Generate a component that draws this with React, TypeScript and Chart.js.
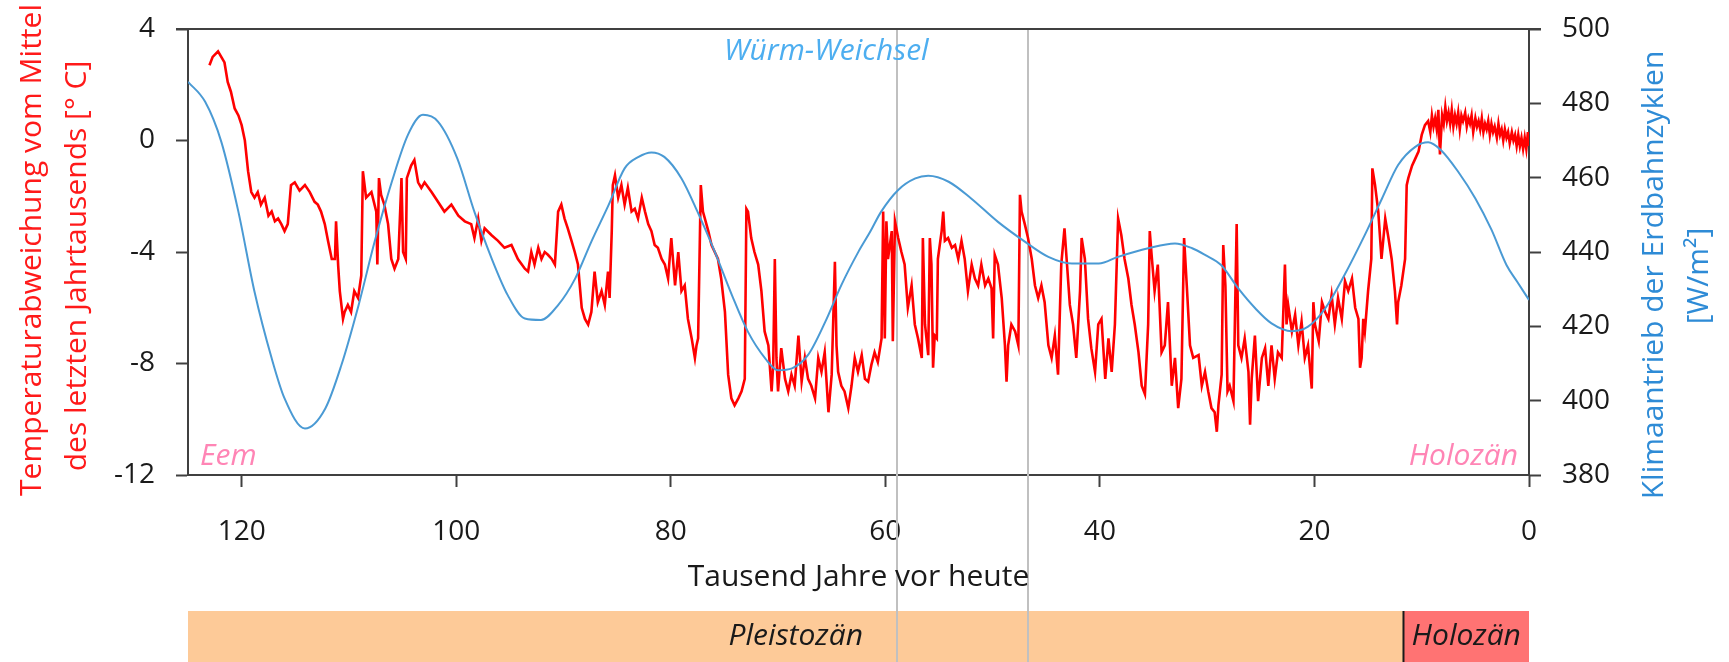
import React, { useEffect, useRef } from "react";
import { Chart, registerables } from "chart.js";

Chart.register(...registerables);

// ---------- data ----------
const X_TICKS = [0, 20, 40, 60, 80, 100, 120];

// Insolation (orbital forcing), W/m², vs thousand years before present
const BLUE_KA = [125.0, 123.4, 121.9, 120.3, 118.8, 117.2, 116.0, 114.1, 112.2, 110.7, 109.1, 107.6, 106.0, 104.5, 103.1, 101.7, 99.9, 98.3, 96.7, 95.2, 93.6, 92.1, 90.5, 88.9, 87.4, 85.8, 84.3, 83.0, 81.8, 80.6, 79.0, 77.5, 75.9, 74.3, 72.8, 71.2, 70.0, 68.7, 67.2, 65.6, 64.1, 62.5, 61.4, 60.4, 58.8, 57.2, 56.0, 54.1, 52.0, 49.5, 47.0, 44.8, 42.6, 40.1, 38.3, 35.5, 33.0, 31.4, 30.2, 28.7, 27.1, 25.5, 24.0, 22.1, 20.6, 19.0, 17.2, 15.3, 13.7, 12.2, 10.6, 9.4, 8.2, 6.6, 5.0, 3.5, 2.1, 1.1, 0];
const BLUE_W = [485.8, 480.4, 469.7, 450.8, 429.3, 411.4, 400.6, 392.5, 397.9, 409.6, 425.7, 442.8, 458.9, 471.5, 476.9, 475.1, 465.2, 450.8, 438.3, 428.4, 422.1, 421.7, 425.7, 432.9, 442.8, 452.6, 462.5, 465.6, 466.8, 465.6, 459.8, 450.8, 440.1, 428.4, 418.5, 411.4, 408.2, 408.7, 412.3, 421.2, 431.1, 440.1, 445.5, 450.8, 456.7, 459.8, 460.5, 458.9, 454.4, 448.1, 442.8, 438.7, 436.9, 436.9, 438.7, 441.0, 442.3, 441.0, 439.2, 436.5, 430.2, 424.8, 420.8, 418.7, 419.9, 424.8, 433.8, 444.6, 454.4, 463.4, 468.3, 469.5, 467.4, 461.6, 454.4, 446.0, 436.5, 432.0, 427.1];

// Temperature anomaly (°C) vs thousand years before present
const RED_KA = [
  123.0, 122.7, 122.2, 121.9, 121.6, 121.3, 121.0, 120.65, 120.3, 120.0, 119.7, 119.4, 119.1, 118.8, 118.5, 118.2, 117.85, 117.5, 117.2, 116.9,
  116.6, 116.3, 116.0, 115.7, 115.4, 115.05, 114.6, 114.1, 113.65, 113.2, 112.9, 112.6, 112.25, 111.95, 111.6, 111.3, 111.2, 111.0, 110.85, 110.55,
  110.4, 110.1, 109.8, 109.5, 109.15, 108.85, 108.7, 108.4, 107.9, 107.45, 107.35, 107.2, 107.0, 106.7, 106.35, 106.05, 105.75, 105.4, 105.1, 104.95,
  104.7, 104.6, 104.2, 103.9, 103.55, 103.25, 102.95, 102.3, 101.7, 101.1, 100.45, 99.8, 99.2, 98.6, 98.3, 97.95, 97.65, 97.35, 96.7, 96.1,
  95.5, 94.85, 94.25, 93.6, 93.3, 93.0, 92.7, 92.35, 92.05, 91.75, 91.45, 91.1, 90.8, 90.5, 90.2, 89.9, 89.6, 89.25, 88.95, 88.65,
  88.3, 88.0, 87.7, 87.4, 87.1, 86.8, 86.45, 86.15, 85.85, 85.7, 85.5, 85.4, 85.2, 84.9, 84.6, 84.3, 84.0, 83.65, 83.35, 83.05,
  82.7, 82.4, 82.1, 81.8, 81.5, 81.2, 80.85, 80.55, 80.25, 79.95, 79.6, 79.3, 79.0, 78.7, 78.4, 78.05, 77.75, 77.6, 77.45, 77.2,
  77.0, 76.5, 76.2, 75.9, 75.6, 75.3, 74.95, 74.65, 74.35, 74.05, 73.7, 73.4, 73.1, 72.95, 72.8, 72.5, 72.2, 71.85, 71.55, 71.25,
  70.9, 70.6, 70.45, 70.3, 70.15, 70.0, 69.7, 69.35, 69.05, 68.75, 68.45, 68.1, 67.8, 67.5, 67.2, 66.9, 66.55, 66.25, 65.95, 65.65,
  65.3, 65.0, 64.7, 64.55, 64.4, 64.1, 63.8, 63.45, 63.15, 62.85, 62.55, 62.2, 61.9, 61.6, 61.3, 61.0, 60.7, 60.35, 60.2, 60.05,
  59.9, 59.75, 59.4, 59.3, 59.1, 58.8, 58.5, 58.2, 57.9, 57.55, 57.25, 56.95, 56.6, 56.5, 56.3, 56.0, 55.85, 55.7, 55.55, 55.4,
  55.2, 55.1, 54.75, 54.6, 54.45, 54.15, 53.8, 53.5, 53.2, 52.9, 52.6, 52.3, 51.95, 51.65, 51.35, 51.05, 50.7, 50.4, 50.1, 49.95,
  49.8, 49.5, 49.15, 48.85, 48.7, 48.55, 48.25, 47.9, 47.6, 47.45, 47.3, 47.0, 46.7, 46.35, 46.05, 45.75, 45.45, 45.15, 44.8, 44.5,
  44.2, 43.9, 43.6, 43.3, 43.1, 42.8, 42.5, 42.2, 41.85, 41.7, 41.4, 41.1, 40.8, 40.45, 40.15, 39.85, 39.5, 39.2, 38.9, 38.6,
  38.3, 38.0, 37.7, 37.35, 37.05, 36.75, 36.4, 36.1, 35.8, 35.5, 35.35, 35.2, 34.9, 34.6, 34.25, 33.95, 33.65, 33.3, 33.0, 32.7,
  32.4, 32.15, 31.9, 31.6, 31.3, 30.8, 30.5, 30.2, 29.9, 29.6, 29.3, 29.1, 28.95, 28.65, 28.5, 28.3, 28.1, 27.9, 27.55, 27.25,
  27.1, 26.8, 26.5, 26.15, 26.0, 25.85, 25.55, 25.25, 24.9, 24.6, 24.3, 24.0, 23.7, 23.4, 23.05, 22.75, 22.6, 22.45, 22.1, 21.8,
  21.5, 21.2, 20.9, 20.6, 20.25, 20.1, 19.95, 19.6, 19.3, 19.0, 18.7, 18.4, 18.1, 17.8, 17.45, 17.15, 16.85, 16.5, 16.2, 15.9,
  15.75, 15.6, 15.45, 15.3, 15.0, 14.7, 14.6, 14.35, 14.05, 13.75, 13.4, 13.1, 12.8, 12.5, 12.3, 12.2, 11.9, 11.55, 11.4, 11.25,
  10.9, 10.6, 10.3, 10.0, 9.7, 9.4, 9.2, 9.05, 8.9, 8.75, 8.6, 8.45, 8.3, 8.1, 7.95, 7.8, 7.65, 7.5, 7.35, 7.2,
  7.05, 6.9, 6.75, 6.6, 6.45, 6.3, 6.15, 5.95, 5.8, 5.65, 5.5, 5.35, 5.2, 5.0, 4.85, 4.7, 4.55, 4.4, 4.25, 4.1,
  3.95, 3.8, 3.65, 3.5, 3.35, 3.2, 3.0, 2.85, 2.7, 2.55, 2.4, 2.25, 2.1, 1.95, 1.8, 1.6, 1.45, 1.3, 1.15, 1.0,
  0.85, 0.7, 0.55, 0.4, 0.25, 0.1, 0.0
];
const RED_T = [
  2.7, 3.0, 3.2, 3.0, 2.8, 2.1, 1.75, 1.15, 0.9, 0.55, 0.0, -1.1, -1.85, -2.05, -1.85, -2.3, -2.05, -2.7, -2.55, -2.9,
  -2.8, -3.0, -3.25, -3.0, -1.6, -1.5, -1.8, -1.6, -1.85, -2.2, -2.3, -2.55, -3.0, -3.6, -4.25, -4.25, -2.9, -4.5, -5.4, -6.4,
  -6.15, -5.9, -6.15, -5.4, -5.65, -4.85, -1.1, -2.05, -1.85, -2.55, -4.45, -1.35, -1.95, -2.3, -3.0, -4.25, -4.6, -4.25, -1.35, -4.0,
  -4.25, -1.35, -0.9, -0.7, -1.5, -1.7, -1.5, -1.85, -2.2, -2.55, -2.3, -2.7, -2.9, -3.0, -3.5, -2.8, -3.6, -3.15, -3.4, -3.6,
  -3.85, -3.75, -4.25, -4.6, -4.7, -4.0, -4.45, -3.85, -4.25, -4.0, -4.1, -4.25, -4.45, -2.55, -2.3, -2.8, -3.15, -3.6, -4.0, -4.45,
  -6.0, -6.4, -6.6, -6.15, -4.7, -5.8, -5.4, -5.9, -4.7, -5.65, -3.25, -1.6, -1.25, -2.05, -1.6, -2.3, -1.7, -2.55, -2.45, -2.8,
  -2.05, -2.55, -3.0, -3.25, -3.75, -3.85, -4.25, -4.45, -4.95, -3.5, -5.2, -4.0, -5.4, -5.2, -6.4, -7.1, -7.8, -7.35, -7.1, -1.6,
  -2.55, -3.25, -3.75, -4.0, -4.25, -4.95, -6.15, -8.4, -9.25, -9.5, -9.25, -9.0, -8.55, -2.45, -2.55, -3.5, -4.0, -4.45, -5.4, -6.85,
  -7.35, -9.0, -8.05, -4.25, -7.8, -9.0, -7.45, -8.55, -9.0, -8.4, -8.8, -7.0, -8.65, -7.8, -8.55, -8.8, -9.25, -7.8, -8.3, -7.6,
  -9.75, -8.4, -4.35, -7.35, -8.3, -8.8, -9.0, -9.6, -8.8, -7.8, -8.3, -7.7, -8.55, -8.65, -8.05, -7.6, -7.95, -7.1, -2.55, -7.1,
  -2.9, -4.25, -3.25, -7.2, -2.9, -3.5, -4.0, -4.45, -6.0, -5.2, -6.6, -7.1, -7.8, -3.5, -6.6, -7.7, -3.5, -4.45, -8.15, -7.0,
  -7.1, -4.25, -3.25, -2.55, -3.6, -3.5, -3.85, -3.75, -4.25, -3.6, -4.25, -5.4, -4.45, -4.95, -5.2, -4.45, -5.2, -4.95, -5.3, -7.1,
  -4.1, -4.45, -5.65, -7.35, -8.65, -7.35, -6.6, -6.85, -7.35, -1.95, -2.55, -3.0, -3.5, -4.25, -5.2, -5.65, -5.2, -5.8, -7.35, -7.8,
  -7.0, -8.4, -4.45, -3.15, -4.25, -5.9, -6.6, -7.8, -5.4, -3.5, -4.25, -6.4, -7.45, -8.3, -6.6, -6.4, -8.55, -7.1, -8.3, -6.6,
  -2.8, -3.4, -4.25, -4.95, -5.9, -6.6, -7.6, -8.8, -9.1, -6.6, -3.25, -4.0, -5.4, -4.45, -7.6, -7.35, -5.8, -8.8, -7.8, -9.6,
  -8.55, -3.5, -5.2, -7.35, -7.8, -7.7, -8.8, -8.3, -9.0, -9.6, -9.75, -10.45, -9.5, -8.4, -3.75, -5.2, -9.0, -8.8, -9.35, -3.0,
  -7.35, -7.8, -7.1, -8.3, -10.2, -8.55, -7.0, -9.35, -7.8, -7.45, -8.8, -7.35, -8.55, -7.6, -7.8, -4.45, -6.6, -5.9, -6.85, -6.25,
  -7.35, -6.5, -7.8, -7.35, -8.9, -5.8, -6.6, -7.2, -5.8, -6.15, -6.4, -5.55, -6.6, -5.65, -6.4, -5.05, -5.4, -4.95, -6.0, -6.4,
  -8.15, -7.8, -6.4, -6.85, -5.4, -4.25, -1.0, -1.6, -2.55, -4.25, -2.8, -3.5, -4.25, -5.4, -6.6, -5.8, -5.2, -4.25, -1.6, -1.35,
  -0.9, -0.65, -0.4, 0.2, 0.55, 0.7, 0.3, 0.9, 0.5, 0.8, 0.4, 1.1, -0.5, 0.9, 0.6, 1.2, 0.7, 1.0, 0.6, 1.1,
  0.5, 0.9, 0.6, 1.0, 0.4, 0.9, 0.7, 1.0, 0.5, 0.8, 0.6, 0.9, 0.3, 0.8, 0.5, 0.7, 0.4, 0.8, 0.3, 0.6,
  0.4, 0.7, 0.2, 0.6, 0.3, 0.5, 0.1, 0.6, 0.2, 0.4, 0.0, 0.4, 0.1, 0.3, -0.1, 0.3, 0.0, 0.2, -0.2, 0.2,
  -0.2, 0.1, -0.3, 0.1, -0.3, 0.3, -0.2
];

// Epochs and markers
const EPOCH_NAMES = ["Pleistozän", "Holozän"];
const EPOCH_START = [125, 11.7];
const EPOCH_END = [11.7, 0];
const EPOCH_COLORS = ["#FDCA98", "#FF7373"];
const MARKER_KA = [58.9, 46.7];

const FONT = "'Open Sans', 'DejaVu Sans', sans-serif";

const overlay = {
  id: "overlay",
  beforeDatasetsDraw(chart: any) {
    const { ctx, chartArea, scales } = chart;
    const x = scales.x;
    const barTop = 611;
    const barBottom = chart.height;
    ctx.save();
    for (let i = 0; i < EPOCH_NAMES.length; i++) {
      const x0 = x.getPixelForValue(EPOCH_START[i]);
      const x1 = x.getPixelForValue(EPOCH_END[i]);
      ctx.fillStyle = EPOCH_COLORS[i];
      ctx.fillRect(x0, barTop, x1 - x0, barBottom - barTop);
      ctx.fillStyle = "#1a1a1a";
      ctx.font = "italic 30px " + FONT;
      ctx.textAlign = "center";
      ctx.textBaseline = "middle";
      ctx.fillText(EPOCH_NAMES[i], (x0 + x1) / 2, (barTop + barBottom) / 2);
    }
    const xb = x.getPixelForValue(EPOCH_START[1]);
    ctx.strokeStyle = "#1a1a1a";
    ctx.lineWidth = 2;
    ctx.beginPath();
    ctx.moveTo(xb, barTop);
    ctx.lineTo(xb, barBottom);
    ctx.stroke();

    ctx.strokeStyle = "#C0C0C0";
    ctx.lineWidth = 2;
    for (const m of MARKER_KA) {
      const px = Math.round(x.getPixelForValue(m));
      ctx.beginPath();
      ctx.moveTo(px, chartArea.top);
      ctx.lineTo(px, barBottom);
      ctx.stroke();
    }
    ctx.restore();
  },
  afterDraw(chart: any) {
    const { ctx, chartArea, scales } = chart;
    ctx.save();
    // top frame line
    ctx.strokeStyle = "#404040";
    ctx.lineWidth = 2;
    ctx.beginPath();
    ctx.moveTo(chartArea.left - 12, chartArea.top);
    ctx.lineTo(chartArea.right + 12, chartArea.top);
    ctx.stroke();

    // annotations
    ctx.font = "italic 30px " + FONT;
    ctx.fillStyle = "#4DAEF0";
    ctx.textAlign = "center";
    ctx.textBaseline = "middle";
    ctx.fillText("Würm-Weichsel", scales.x.getPixelForValue(65.5), chartArea.top + 22);
    ctx.fillStyle = "#FF85B5";
    ctx.textBaseline = "alphabetic";
    ctx.textAlign = "left";
    ctx.fillText("Eem", chartArea.left + 12, chartArea.bottom - 10);
    ctx.textAlign = "right";
    ctx.fillText("Holozän", chartArea.right - 11, chartArea.bottom - 10);

    // x title
    ctx.font = "30px " + FONT;
    ctx.fillStyle = "#1a1a1a";
    ctx.textAlign = "center";
    ctx.textBaseline = "middle";
    ctx.fillText("Tausend Jahre vor heute", (chartArea.left + chartArea.right) / 2, 577);

    // axis titles (rotated)
    const rot = (text: string, cx: number, cy: number, color: string) => {
      ctx.save();
      ctx.translate(cx, cy);
      ctx.rotate(-Math.PI / 2);
      ctx.fillStyle = color;
      ctx.textAlign = "center";
      ctx.textBaseline = "middle";
      ctx.fillText(text, 0, 0);
      ctx.restore();
    };
    rot("Temperaturabweichung vom Mittel", 32, 250, "#FF1A1A");
    rot("des letzten Jahrtausends [° C]", 77, 266, "#FF1A1A");
    rot("Klimaantrieb der Erdbahnzyklen", 1654, 275, "#2E8BD6");
    rot("[W/m²]", 1699, 276, "#2E8BD6");
    ctx.restore();
  },
};

export default function App() {
  const ref = useRef<HTMLCanvasElement | null>(null);
  useEffect(() => {
    if (!ref.current) return;
    const blue = BLUE_KA.map((k, i) => ({ x: k, y: BLUE_W[i] }));
    const red = RED_KA.map((k, i) => ({ x: k, y: RED_T[i] }));
    const tickFont = { family: FONT, size: 28 };
    const noPad = (s: any) => {
      s.paddingTop = 0;
      s.paddingBottom = 0;
    };
    const chart = new Chart(ref.current, {
      type: "line",
      data: {
        datasets: [
          {
            label: "Klimaantrieb",
            data: blue,
            yAxisID: "y1",
            borderColor: "#4A9AD4",
            borderWidth: 2,
            pointRadius: 0,
            cubicInterpolationMode: "monotone",
            fill: false,
          },
          {
            label: "Temperatur",
            data: red,
            yAxisID: "y",
            borderColor: "#FF0000",
            borderWidth: 2.6,
            pointRadius: 0,
            tension: 0,
            fill: false,
          },
        ],
      },
      options: {
        responsive: false,
        animation: false,
        events: [],
        layout: { padding: { top: 29, left: 0, right: 0, bottom: 0 } },
        plugins: { legend: { display: false }, tooltip: { enabled: false } },
        scales: {
          x: {
            type: "linear",
            reverse: true,
            min: 0,
            max: 125,
            afterBuildTicks: (s: any) => {
              s.ticks = X_TICKS.map((v) => ({ value: v }));
            },
            afterFit: (s: any) => {
              s.height = 187;
              s.paddingLeft = 0;
              s.paddingRight = 0;
            },
            ticks: { font: tickFont, color: "#1a1a1a", padding: 28, maxRotation: 0, autoSkip: false },
            grid: { drawOnChartArea: false, drawTicks: true, tickLength: 12, tickColor: "#404040", tickWidth: 2 },
            border: { display: true, color: "#404040", width: 2 },
          },
          y: {
            position: "left",
            min: -12,
            max: 4,
            ticks: { stepSize: 4, font: tickFont, color: "#1a1a1a", padding: 21 },
            afterFit: (s: any) => {
              s.width = 188;
              noPad(s);
            },
            grid: { drawOnChartArea: false, drawTicks: true, tickLength: 12, tickColor: "#404040", tickWidth: 2 },
            border: { display: true, color: "#404040", width: 2 },
          },
          y1: {
            position: "right",
            min: 380,
            max: 500,
            ticks: { stepSize: 20, font: tickFont, color: "#1a1a1a", padding: 21 },
            afterFit: (s: any) => {
              s.width = 200;
              noPad(s);
            },
            grid: { drawOnChartArea: false, drawTicks: true, tickLength: 12, tickColor: "#404040", tickWidth: 2 },
            border: { display: true, color: "#404040", width: 2 },
          },
        },
      },
      plugins: [overlay],
    } as any);
    return () => chart.destroy();
  }, []);
  return (
    <div style={{ position: "absolute", left: 0, top: 0, width: 1729, height: 662, background: "#fff" }}>
      <canvas ref={ref} width={1729} height={662} style={{ width: 1729, height: 662 }} />
    </div>
  );
}
